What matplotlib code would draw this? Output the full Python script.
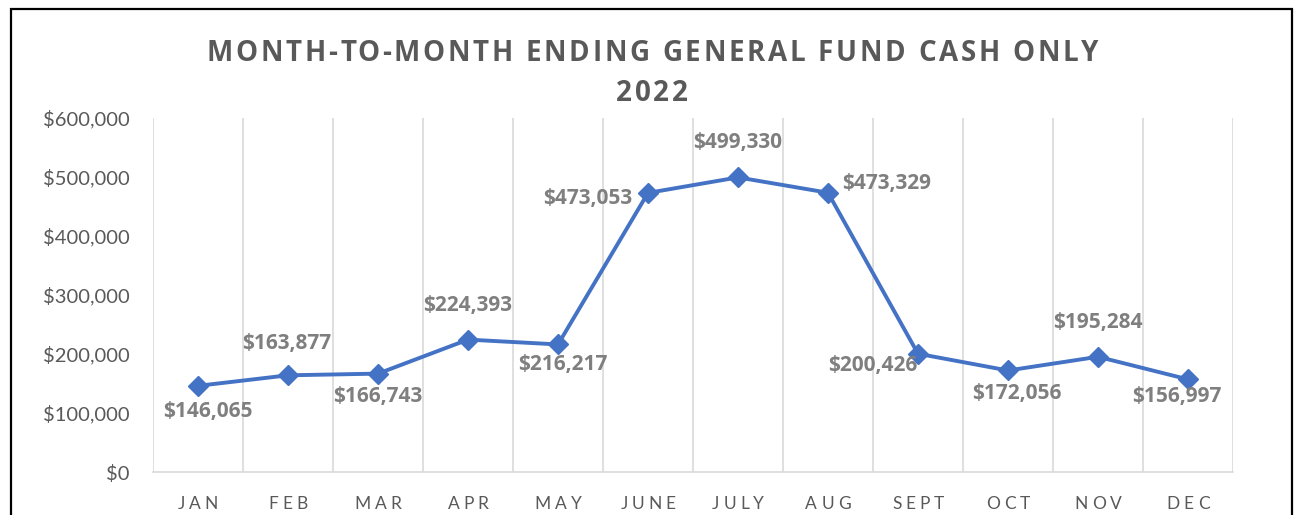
import matplotlib
matplotlib.use("Agg")
import matplotlib.pyplot as plt
import numpy as np
from matplotlib.font_manager import FontProperties
from matplotlib.patches import Rectangle

# data
months = ["JAN", "FEB", "MAR", "APR", "MAY", "JUNE", "JULY", "AUG", "SEPT", "OCT", "NOV", "DEC"]
cash = [146065, 163877, 166743, 224393, 216217, 473053, 499330, 473329, 200426, 172056, 195284, 156997]
y_ticks = [0, 100000, 200000, 300000, 400000, 500000, 600000]

# label offsets in pixels (dx, dy) and alignment, like Excel placed them
label_pos = [(10, -26, "center"), (-1, 32, "center"), (0, -23, "center"), (0, 34, "center"),
             (5, -20, "center"), (-16, -6, "right"), (0, 35, "center"), (14, 9, "left"),
             (-1, -12, "right"), (9, -23, "center"), (0, 34, "center"), (-11, -17, "center")]

W, H = 1296, 515
FONT = ["Lato", "DejaVu Sans"]
BOLD = ["Open Sans", "DejaVu Sans"]
plt.rcParams["font.family"] = FONT

fig = plt.figure(figsize=(W / 100, H / 100), dpi=100)
ax = fig.add_axes([153 / W, 1 - 472 / H, 1080 / W, 354 / H])

x = np.arange(len(months))
ax.plot(x, cash, color="#4472C4", lw=2.8, marker="D", ms=10, zorder=3)

for xi, v, (dx, dy, ha) in zip(x, cash, label_pos):
    ax.annotate("${:,}".format(v), (xi, v), xytext=(dx, dy), textcoords="offset pixels",
                ha=ha, va="center", fontsize=15, fontweight="bold", family=BOLD,
                color="#7f7f7f", zorder=4)

ax.set_xlim(-0.5, 11.5)
ax.set_ylim(0, 600000)
ax.set_yticks(y_ticks)
ax.set_yticklabels(["${:,}".format(t) for t in y_ticks], fontsize=14.5, color="#595959")
ax.set_xticks(x)
ax.set_xticklabels([])
ax.set_xticks(np.arange(-0.5, 12, 1), minor=True)
ax.tick_params(axis="both", which="both", length=0)
ax.tick_params(axis="y", pad=17)
ax.grid(which="minor", axis="x", color="#d9d9d9", lw=1.2)
for s in ["top", "left", "right"]:
    ax.spines[s].set_visible(False)
ax.spines["bottom"].set_color("#d9d9d9")
ax.spines["bottom"].set_linewidth(1.2)

renderer = fig.canvas.get_renderer()


def spaced_text(cx, base_y, s, gap, size, weight, color, family=FONT):
    # matplotlib has no letter-spacing, so place the characters one by one
    prop = FontProperties(family=family, size=size, weight=weight)

    def width(t):
        return renderer.get_text_width_height_descent(t, prop, ismath=False)[0]

    bar = width("|")
    starts = [width(s[:i] + "|") - bar for i in range(len(s))]
    total = width(s) + gap * (len(s) - 1)
    x0 = cx - total / 2
    for i, ch in enumerate(s):
        if ch == " ":
            continue
        fig.text((x0 + starts[i] + gap * i) / W, 1 - base_y / H, ch, fontproperties=prop,
                 ha="left", va="baseline", color=color)


spaced_text(652, 61, "MONTH-TO-MONTH ENDING GENERAL FUND CASH ONLY", 2.7, 20, "bold", "#595959", BOLD)
spaced_text(652, 101, "2022", 2.7, 20, "bold", "#595959", BOLD)

for i, m in enumerate(months):
    px = 198 + 90 * i
    spaced_text(px, 509, m, 4, 12.5, "normal", "#595959")

fig.patches.append(Rectangle((11 / W, -0.1), (1292 - 11) / W, 1.1 - 9 / H, transform=fig.transFigure,
                             fill=False, ec="black", lw=1.6))

fig.savefig("out.png", dpi=100)
